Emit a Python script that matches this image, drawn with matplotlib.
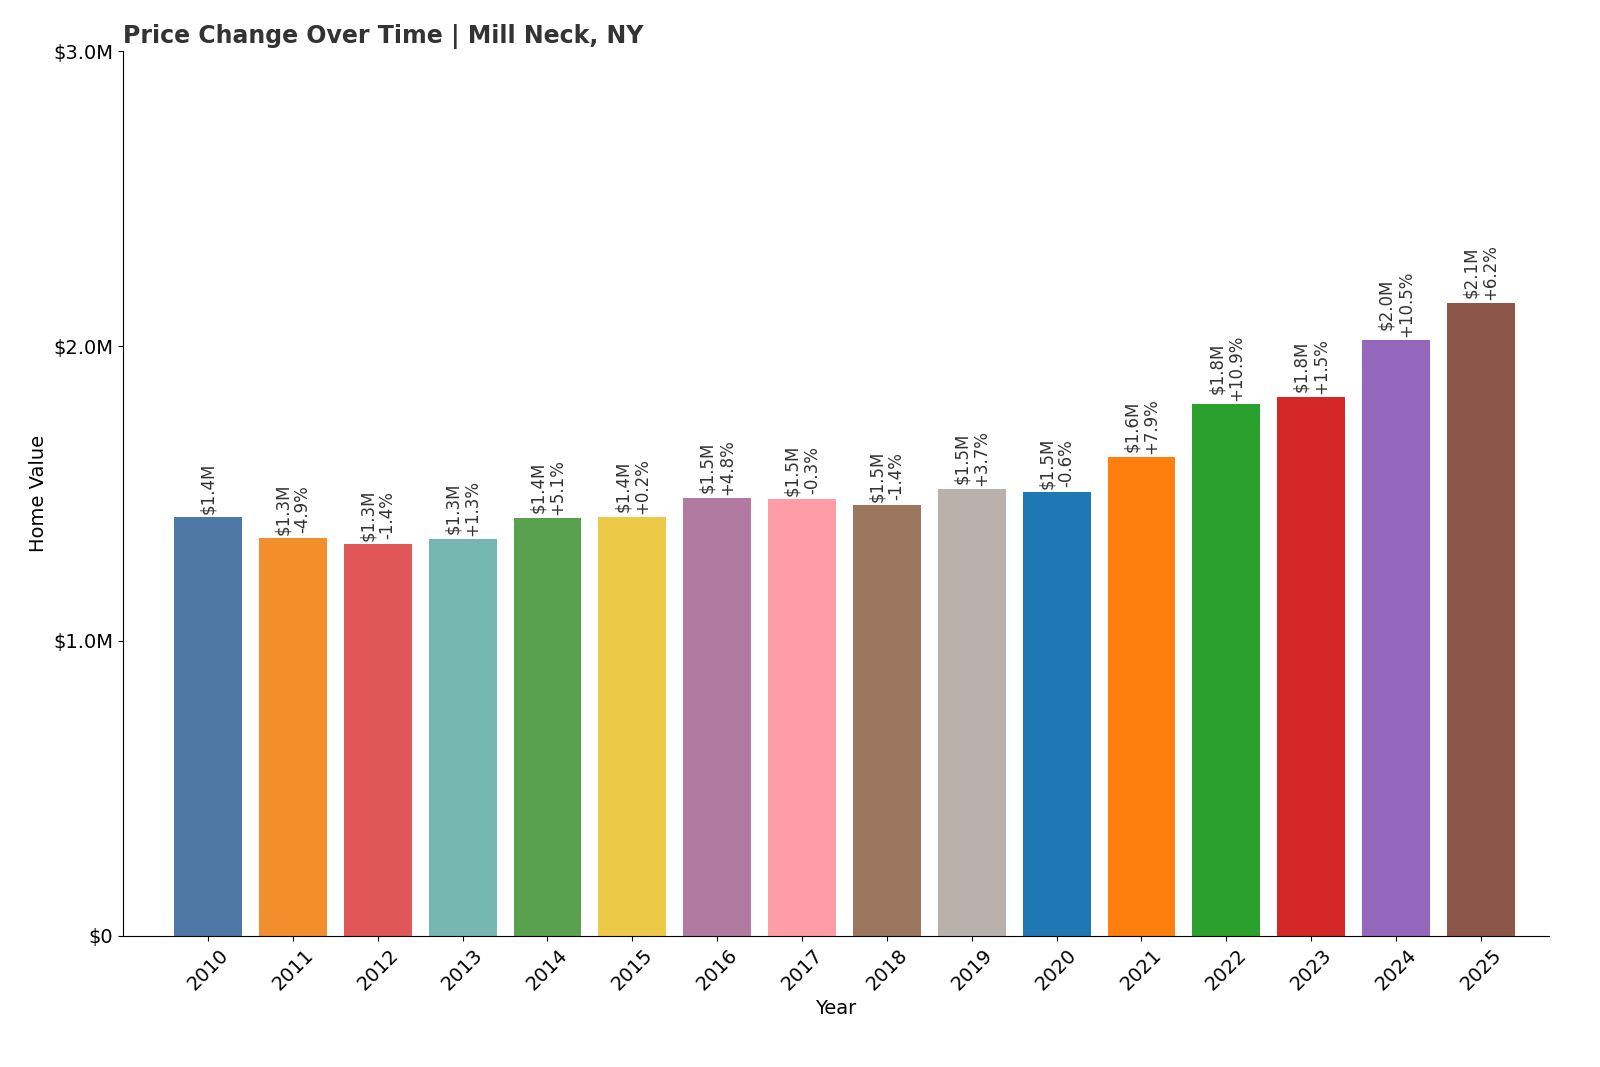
import matplotlib.pyplot as plt
from matplotlib.ticker import FuncFormatter

years = ['2010', '2011', '2012', '2013', '2014', '2015', '2016', '2017',
         '2018', '2019', '2020', '2021', '2022', '2023', '2024', '2025']
values = [1.420, 1.349, 1.329, 1.346, 1.417, 1.420, 1.485, 1.481,
          1.461, 1.515, 1.505, 1.624, 1.803, 1.827, 2.020, 2.146]
changes = [None, '-4.9%', '-1.4%', '+1.3%', '+5.1%', '+0.2%', '+4.8%', '-0.3%',
           '-1.4%', '+3.7%', '-0.6%', '+7.9%', '+10.9%', '+1.5%', '+10.5%', '+6.2%']
colors = ['#4e79a7', '#f28e2b', '#e15759', '#76b7b2', '#59a14f', '#edc948',
          '#b07aa1', '#ff9da7', '#9c755f', '#bab0ac', '#1f77b4', '#ff7f0e',
          '#2ca02c', '#d62728', '#9467bd', '#8c564b']

fig = plt.figure(figsize=(16, 10.67), dpi=100)
ax = fig.add_axes([0.077, 0.123, 0.891, 0.829])

x = range(len(years))
ax.bar(x, [v * 1e6 for v in values], width=0.8, color=colors)

for i, v in enumerate(values):
    label = f"${v:.1f}M" if changes[i] is None else f"${v:.1f}M\n{changes[i]}"
    ax.text(i, v * 1e6 + 0.01e6, label, rotation=90, ha='center', va='bottom',
            fontsize=12, color='#333333', linespacing=1.1)

ax.set_ylim(0, 3e6)
ax.set_yticks([0, 1e6, 2e6, 3e6])
ax.yaxis.set_major_formatter(FuncFormatter(lambda v, p: '$0' if v == 0 else f"${v/1e6:.1f}M"))
ax.set_xticks(list(x))
ax.set_xticklabels(years, rotation=45, fontsize=14)
ax.tick_params(axis='y', labelsize=14)
ax.set_xlim(-1, len(years) - 0.2)
ax.set_xlabel('Year', fontsize=14)
ax.set_ylabel('Home Value', fontsize=14)
ax.spines['top'].set_visible(False)
ax.spines['right'].set_visible(False)
ax.set_title('Price Change Over Time | Mill Neck, NY', loc='left', fontsize=17,
             fontweight='bold', color='#333333', x=0.0, y=1.0)

fig.savefig('out.png', dpi=100)
